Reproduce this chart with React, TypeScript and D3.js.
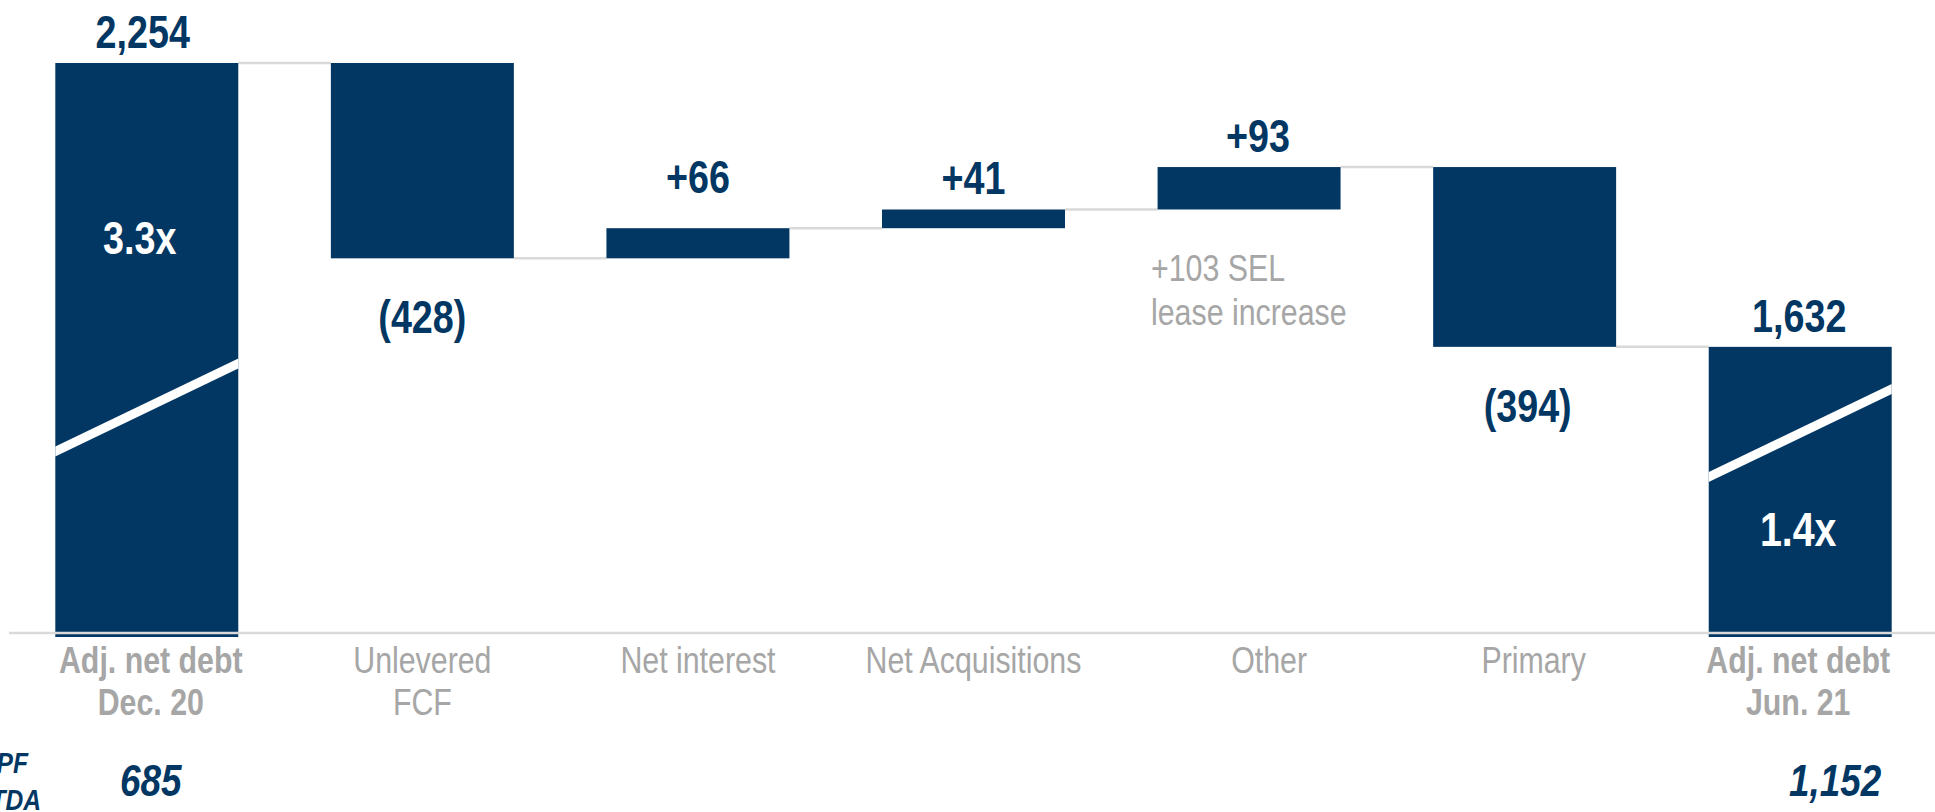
import React from "react";
import * as d3 from "d3";

const CATEGORIES = [
  "Adj. net debt\nDec. 20",
  "Unlevered\nFCF",
  "Net interest",
  "Net Acquisitions",
  "Other",
  "Primary",
  "Adj. net debt\nJun. 21",
];
const KINDS = ["total", "delta", "delta", "delta", "delta", "delta", "total"];
const VALUES = [2254, -428, 66, 41, 93, -394, 1632];
const VALUE_LABELS = ["2,254", "(428)", "+66", "+41", "+93", "(394)", "1,632"];
const LEVERAGE_LABELS = ["3.3x", "", "", "", "", "", "1.4x"];
const EBITDA_LABELS = ["685", "", "", "", "", "", "1,152"];
const EBITDA_TITLE = ["Adj. PF", "EBITDA"];
const NOTE_LINES = ["+103 SEL", "lease increase"];
const AXIS_MIN = 1005;
const BREAK_AT = [1499, 1443];

const W = 1935;
const H = 812;
const NAVY = "#033763";
const GRAY_TEXT = "#a6a6a6";
const GRAY_LINE = "#d9d9d9";
const FONT = "'Liberation Sans', Arial, sans-serif";
const NARROW = 0.82;
// small manual nudges of labels (px), as in the original slide
const CAT_DX: Record<number, number> = { 0: 4, 4: 20, 5: 9, 6: -2 };
const VAL_DX: Record<number, number> = { 0: -4, 4: 9, 5: 3, 6: -1 };

type NTProps = {
  x: number;
  y: number;
  lines: string[];
  lineHeight?: number;
  anchor?: "start" | "middle" | "end";
  size: number;
  weight?: string;
  italic?: boolean;
  fill: string;
};

function NarrowText({ x, y, lines, lineHeight = 0, anchor = "middle", size, weight = "normal", italic = false, fill }: NTProps) {
  return (
    <text
      transform={`translate(${x},${y}) scale(${NARROW},1)`}
      textAnchor={anchor}
      fontSize={size}
      fontWeight={weight}
      fontStyle={italic ? "italic" : "normal"}
      fill={fill}
    >
      {lines.map((ln, j) => (
        <tspan key={j} x={0} y={j * lineHeight}>
          {ln}
        </tspan>
      ))}
    </text>
  );
}

export default function App() {
  const x = d3
    .scaleBand<string>()
    .domain(CATEGORIES)
    .range([9, 1938])
    .paddingInner(0.336)
    .paddingOuter(0.168);
  const y = d3.scaleLinear().domain([AXIS_MIN, 2254]).range([633, 63]);
  const baseY = y(AXIS_MIN);
  const bw = x.bandwidth();

  let running = 0;
  const bars = VALUES.map((v, i) => {
    let lo: number, hi: number, end: number;
    if (KINDS[i] === "total") {
      lo = AXIS_MIN;
      hi = v;
      end = v;
    } else {
      const s = running;
      end = running + v;
      lo = Math.min(s, end);
      hi = Math.max(s, end);
    }
    running = end;
    return { i, cat: CATEGORIES[i], v, lo, hi, end, kind: KINDS[i] };
  });

  return (
    <svg
      width={W}
      height={H}
      style={{ position: "absolute", left: 0, top: 0, background: "#fff" }}
      fontFamily={FONT}
    >
      {/* connectors */}
      {bars.slice(0, -1).map((b) => {
        const nx = x(CATEGORIES[b.i + 1])!;
        return (
          <line
            key={"c" + b.i}
            x1={x(b.cat)! + bw}
            x2={nx}
            y1={y(b.end)}
            y2={y(b.end)}
            stroke={GRAY_LINE}
            strokeWidth={2.5}
          />
        );
      })}
      {/* bars */}
      {bars.map((b) => {
        const top = y(b.hi);
        const bottom = b.kind === "total" ? baseY + 4 : y(b.lo);
        return (
          <rect
            key={"b" + b.i}
            x={x(b.cat)}
            y={top}
            width={bw}
            height={bottom - top}
            fill={NAVY}
          />
        );
      })}
      {/* axis baseline */}
      <line x1={9} x2={W} y1={baseY} y2={baseY} stroke={GRAY_LINE} strokeWidth={2.5} />
      {/* break slashes */}
      {bars
        .filter((b) => b.kind === "total")
        .map((b, k) => {
          const cy = y(BREAK_AT[k]);
          const x0 = x(b.cat)!;
          const x1 = x0 + bw;
          const yl = cy + 44;
          const yr = cy - 44;
          const pts = [
            [x0, yl - 5],
            [x1, yr - 5],
            [x1, yr + 5],
            [x0, yl + 5],
          ]
            .map((p) => p.join(","))
            .join(" ");
          return <polygon key={"s" + b.i} points={pts} fill="#fff" />;
        })}
      {/* value labels */}
      {bars.map((b) => {
        const cx = x(b.cat)! + bw / 2 + (VAL_DX[b.i] || 0);
        const neg = b.kind === "delta" && b.v < 0;
        const extra = b.i === 2 ? 20 : 0;
        const ty = neg ? y(b.lo) + 75 : y(b.hi) - 15 - extra;
        return (
          <NarrowText
            key={"v" + b.i}
            x={cx}
            y={ty}
            lines={[VALUE_LABELS[b.i]]}
            size={46}
            weight="bold"
            fill={NAVY}
          />
        );
      })}
      {/* leverage labels */}
      {bars.map((b) =>
        LEVERAGE_LABELS[b.i] ? (
          <NarrowText
            key={"l" + b.i}
            x={x(b.cat)! + bw / 2 - (b.i === 0 ? 7 : 2)}
            y={b.i === 0 ? 254 : 546}
            lines={[LEVERAGE_LABELS[b.i]]}
            size={b.i === 0 ? 46 : 48}
            weight="bold"
            fill="#fff"
          />
        ) : null
      )}
      {/* category labels */}
      {bars.map((b) => (
        <NarrowText
          key={"t" + b.i}
          x={x(b.cat)! + bw / 2 + (CAT_DX[b.i] || 0)}
          y={673}
          lines={b.cat.split("\n")}
          lineHeight={42}
          size={37}
          weight={b.kind === "total" ? "bold" : "normal"}
          fill={GRAY_TEXT}
        />
      ))}
      {/* note */}
      <NarrowText x={1151} y={281} lines={NOTE_LINES} lineHeight={44} anchor="start" size={37} fill={GRAY_TEXT} />
      {/* EBITDA row */}
      <NarrowText x={28} y={773} lines={[EBITDA_TITLE[0]]} anchor="end" size={30} weight="bold" italic fill={NAVY} />
      <NarrowText x={41} y={810} lines={[EBITDA_TITLE[1]]} anchor="end" size={30} weight="bold" italic fill={NAVY} />
      {bars.map((b) =>
        EBITDA_LABELS[b.i] ? (
          <NarrowText
            key={"e" + b.i}
            x={x(b.cat)! + bw / 2 + (b.i === 0 ? 4 : 35)}
            y={796}
            lines={[EBITDA_LABELS[b.i]]}
            size={45}
            weight="bold"
            italic
            fill={NAVY}
          />
        ) : null
      )}
    </svg>
  );
}
